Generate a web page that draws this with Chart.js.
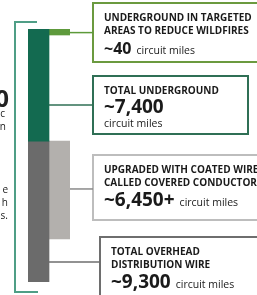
<!DOCTYPE html>
<html>
<head>
<meta charset="utf-8">
<script src="https://cdn.jsdelivr.net/npm/chart.js@4"></script>
<style>
  html, body { margin: 0; padding: 0; background: #fff; }
  #wrap { width: 257px; height: 295px; position: relative; }
</style>
</head>
<body>
<div id="wrap"><canvas id="miles"></canvas></div>
<script>
// circuit miles
const categories = ['Total', 'Subset'];
const undergroundTotal = 7400;
const overheadTotal = 9300;
const targetedUnderground = 40;
const coveredConductor = 6450;

const calloutTitles = [
    ['UNDERGROUND IN TARGETED', 'AREAS TO REDUCE WILDFIRES'],
    ['TOTAL UNDERGROUND'],
    ['UPGRADED WITH COATED WIRE', 'CALLED COVERED CONDUCTOR'],
    ['TOTAL OVERHEAD', 'DISTRIBUTION WIRE']
];
const calloutValues = ['~40', '~7,400', '~6,450+', '~9,300'];

const FONT = '"Open Sans", sans-serif';

// boxes + connectors + bracket, drawn after the bars
const calloutPlugin = {
    id: 'callouts',
    afterDraw(chart) {
        const c = chart.ctx;
        const y = chart.scales.y;
        const x = chart.scales.x;
        const barW = x.getPixelForValue(1) - x.getPixelForValue(0);
        const bar1Right = x.getPixelForValue(0) + barW / 2;
        const bar2Right = x.getPixelForValue(1) + barW / 2;
        c.save();

        // bracket on the left
        c.strokeStyle = '#4f9e86';
        c.lineWidth = 2;
        c.beginPath();
        c.moveTo(37, 22);
        c.lineTo(15, 22);
        c.lineTo(15, 292);
        c.lineTo(38, 292);
        c.stroke();

        // cut-off side text
        c.fillStyle = '#222';
        c.textAlign = 'right';
        c.textBaseline = 'middle';
        c.font = 'bold 24px ' + FONT;
        c.fillText('0', 9, 100);
        c.font = '10px ' + FONT;
        c.fillText('c', 5, 114);
        c.fillText('n', 6, 127);
        c.fillText('e', 8, 190);
        c.fillText('h', 8, 203);
        c.fillText('s.', 8, 216);

        const boxes = [
            {x: 93, y0: 3, y1: 62, right: 262, border: '#6b9a3f', line: '#5d9a3a', from: bar2Right, ly: y.getPixelForValue(targetedUnderground) + 3, big: 16, sub: 'inline'},
            {x: 93, y0: 76, y1: 134, right: 248, border: '#2f6f55', line: '#2f6f55', from: bar1Right, ly: y.getPixelForValue(undergroundTotal / 2) + 20, big: 19, sub: 'below'},
            {x: 93, y0: 155, y1: 220, right: 262, border: '#bdbdbd', line: '#8a8a8a', from: bar2Right, ly: y.getPixelForValue(undergroundTotal + coveredConductor / 2) - 1, big: 19, sub: 'inline'},
            {x: 100, y0: 237, y1: 300, right: 262, border: '#6e6e6e', line: '#6e6e6e', from: bar1Right, ly: y.getPixelForValue(undergroundTotal + overheadTotal) - 20, big: 19, sub: 'inline'}
        ];

        boxes.forEach((b, i) => {
            c.strokeStyle = b.border;
            c.lineWidth = 2;
            c.strokeRect(b.x, b.y0, b.right - b.x, b.y1 - b.y0);
            c.strokeStyle = b.line;
            c.lineWidth = 1.5;
            c.beginPath();
            c.moveTo(b.from, b.ly);
            c.lineTo(b.x, b.ly);
            c.stroke();

            const tx = b.x + 11;
            c.fillStyle = '#1a1a1a';
            c.textAlign = 'left';
            c.textBaseline = 'alphabetic';
            c.font = 'bold 10px ' + FONT;
            let ty = b.y0 + 18;
            calloutTitles[i].forEach(t => { c.fillText(t, tx, ty); ty += 12.5; });
            ty += b.sub === 'below' ? 6 : 8;
            c.font = 'bold ' + b.big + 'px ' + FONT;
            c.fillText(calloutValues[i], tx, ty);
            const w = c.measureText(calloutValues[i]).width;
            c.font = '10.5px ' + FONT;
            if (b.sub === 'below') {
                c.fillText('circuit miles', tx, ty + 14);
            } else {
                c.fillText('circuit miles', tx + w + 5, ty);
            }
        });
        c.restore();
    }
};

new Chart(document.getElementById('miles'), {
    type: 'bar',
    data: {
        labels: categories,
        datasets: [
            {label: 'Total underground', data: [[0, undergroundTotal], null], backgroundColor: '#136a50'},
            {label: 'Total overhead', data: [[undergroundTotal, undergroundTotal + overheadTotal], null], backgroundColor: '#6b6b6b'},
            {label: 'Targeted underground', data: [null, [0, targetedUnderground]], backgroundColor: '#5e9a3c', minBarLength: 6},
            {label: 'Covered conductor', data: [null, [undergroundTotal, undergroundTotal + coveredConductor]], backgroundColor: '#b3b0ad'}
        ]
    },
    options: {
        responsive: true,
        maintainAspectRatio: false,
        animation: false,
        grouped: false,
        barPercentage: 1,
        categoryPercentage: 1,
        layout: {padding: {left: 28, right: 187, top: 29, bottom: 13}},
        scales: {
            x: {display: false},
            y: {display: false, reverse: true, min: 0, max: undergroundTotal + overheadTotal}
        },
        plugins: {legend: {display: false}, tooltip: {enabled: false}}
    },
    plugins: [calloutPlugin]
});
</script>
</body>
</html>
